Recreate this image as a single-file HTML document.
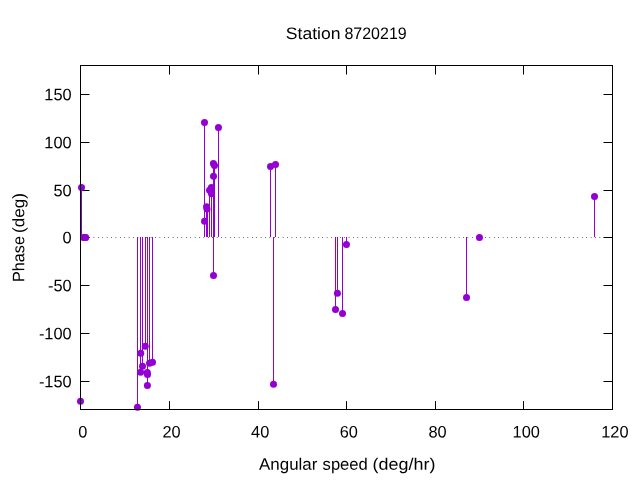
<!DOCTYPE html>
<html lang="en"><head><meta charset="utf-8"><title>Station 8720219</title>
<style>html,body{margin:0;padding:0;background:#fff;overflow:hidden}svg{display:block}text{font-family:"Liberation Sans","DejaVu Sans",sans-serif;font-size:16.6px;fill:#000;text-rendering:geometricPrecision}</style>
</head><body>
<svg width="640" height="480" viewBox="0 0 640 480">
<rect x="0" y="0" width="640" height="480" fill="#fff"/>
<g stroke="#000" stroke-width="1" fill="none" stroke-linecap="butt">
<line x1="80.5" y1="409.5" x2="80.5" y2="401.1"/>
<line x1="80.5" y1="65.5" x2="80.5" y2="74.5"/>
<line x1="169.5" y1="409.5" x2="169.5" y2="401.1"/>
<line x1="169.5" y1="65.5" x2="169.5" y2="74.5"/>
<line x1="258.5" y1="409.5" x2="258.5" y2="401.1"/>
<line x1="258.5" y1="65.5" x2="258.5" y2="74.5"/>
<line x1="346.5" y1="409.5" x2="346.5" y2="401.1"/>
<line x1="346.5" y1="65.5" x2="346.5" y2="74.5"/>
<line x1="435.5" y1="409.5" x2="435.5" y2="401.1"/>
<line x1="435.5" y1="65.5" x2="435.5" y2="74.5"/>
<line x1="523.5" y1="409.5" x2="523.5" y2="401.1"/>
<line x1="523.5" y1="65.5" x2="523.5" y2="74.5"/>
<line x1="612.5" y1="409.5" x2="612.5" y2="401.1"/>
<line x1="612.5" y1="65.5" x2="612.5" y2="74.5"/>
<line x1="80.5" y1="94.5" x2="89.5" y2="94.5"/>
<line x1="612.5" y1="94.5" x2="603.5" y2="94.5"/>
<line x1="80.5" y1="142.5" x2="89.5" y2="142.5"/>
<line x1="612.5" y1="142.5" x2="603.5" y2="142.5"/>
<line x1="80.5" y1="190.5" x2="89.5" y2="190.5"/>
<line x1="612.5" y1="190.5" x2="603.5" y2="190.5"/>
<line x1="80.5" y1="237.5" x2="89.5" y2="237.5"/>
<line x1="612.5" y1="237.5" x2="603.5" y2="237.5"/>
<line x1="80.5" y1="285.5" x2="89.5" y2="285.5"/>
<line x1="612.5" y1="285.5" x2="603.5" y2="285.5"/>
<line x1="80.5" y1="333.5" x2="89.5" y2="333.5"/>
<line x1="612.5" y1="333.5" x2="603.5" y2="333.5"/>
<line x1="80.5" y1="381.5" x2="89.5" y2="381.5"/>
<line x1="612.5" y1="381.5" x2="603.5" y2="381.5"/>
</g>
<line x1="80.4" y1="237.5" x2="612.5" y2="237.5" stroke="#000" stroke-width="1" stroke-dasharray="0.55 3.85" stroke-linecap="butt"/>
<g stroke="#9400D3" stroke-width="1" fill="none">
<line x1="81.5" y1="237" x2="81.5" y2="187.50"/>
<line x1="80.5" y1="237" x2="80.5" y2="401.36"/>
<line x1="137.5" y1="237" x2="137.5" y2="407.20"/>
<line x1="140.5" y1="237" x2="140.5" y2="353.25"/>
<line x1="140.5" y1="237" x2="140.5" y2="372.00"/>
<line x1="142.5" y1="237" x2="142.5" y2="366.25"/>
<line x1="145.5" y1="237" x2="145.5" y2="346.25"/>
<line x1="147.5" y1="237" x2="147.5" y2="385.40"/>
<line x1="149.5" y1="237" x2="149.5" y2="363.25"/>
<line x1="152.5" y1="237" x2="152.5" y2="362.25"/>
<line x1="204.5" y1="237" x2="204.5" y2="122.50"/>
<line x1="206.5" y1="237" x2="206.5" y2="206.65"/>
<line x1="207.5" y1="237" x2="207.5" y2="208.70"/>
<line x1="209.5" y1="237" x2="209.5" y2="190.25"/>
<line x1="211.5" y1="237" x2="211.5" y2="187.55"/>
<line x1="213.5" y1="237" x2="213.5" y2="163.50"/>
<line x1="213.5" y1="237" x2="213.5" y2="275.40"/>
<line x1="214.5" y1="237" x2="214.5" y2="165.40"/>
<line x1="218.5" y1="237" x2="218.5" y2="127.50"/>
<line x1="270.5" y1="237" x2="270.5" y2="166.50"/>
<line x1="275.5" y1="237" x2="275.5" y2="164.40"/>
<line x1="273.5" y1="237" x2="273.5" y2="384.35"/>
<line x1="335.5" y1="237" x2="335.5" y2="309.40"/>
<line x1="337.5" y1="237" x2="337.5" y2="293.35"/>
<line x1="342.5" y1="237" x2="342.5" y2="313.40"/>
<line x1="346.5" y1="237" x2="346.5" y2="244.44"/>
<line x1="466.5" y1="237" x2="466.5" y2="297.40"/>
<line x1="594.5" y1="237" x2="594.5" y2="196.40"/>
</g>
<g fill="#9400D3" stroke="none">
<circle cx="81.50" cy="187.50" r="3.5"/>
<circle cx="80.50" cy="401.36" r="3.5"/>
<circle cx="83.55" cy="237.50" r="3.5"/>
<circle cx="85.30" cy="237.50" r="3.5"/>
<circle cx="85.60" cy="237.50" r="3.5"/>
<circle cx="137.45" cy="407.30" r="3.5"/>
<circle cx="140.75" cy="353.25" r="3.5"/>
<circle cx="140.60" cy="372.20" r="3.5"/>
<circle cx="142.50" cy="366.25" r="3.5"/>
<circle cx="145.25" cy="346.25" r="3.5"/>
<circle cx="147.30" cy="372.55" r="3.5"/>
<circle cx="147.50" cy="374.60" r="3.5"/>
<circle cx="147.40" cy="385.40" r="3.5"/>
<circle cx="149.50" cy="363.25" r="3.5"/>
<circle cx="152.50" cy="362.25" r="3.5"/>
<circle cx="204.50" cy="122.50" r="3.5"/>
<circle cx="204.55" cy="221.30" r="3.5"/>
<circle cx="206.55" cy="206.80" r="3.5"/>
<circle cx="207.00" cy="208.90" r="3.5"/>
<circle cx="209.55" cy="190.25" r="3.5"/>
<circle cx="211.40" cy="187.55" r="3.5"/>
<circle cx="211.50" cy="193.70" r="3.5"/>
<circle cx="213.40" cy="163.50" r="3.5"/>
<circle cx="214.50" cy="165.40" r="3.5"/>
<circle cx="213.50" cy="176.25" r="3.5"/>
<circle cx="213.50" cy="275.40" r="3.5"/>
<circle cx="218.45" cy="127.50" r="3.5"/>
<circle cx="270.50" cy="166.50" r="3.5"/>
<circle cx="275.50" cy="164.40" r="3.5"/>
<circle cx="273.50" cy="384.35" r="3.5"/>
<circle cx="335.50" cy="309.40" r="3.5"/>
<circle cx="337.40" cy="293.35" r="3.5"/>
<circle cx="342.50" cy="313.40" r="3.5"/>
<circle cx="346.44" cy="244.44" r="3.5"/>
<circle cx="466.50" cy="297.40" r="3.5"/>
<circle cx="479.45" cy="237.50" r="3.5"/>
<circle cx="594.50" cy="196.40" r="3.5"/>
</g>
<rect x="80.5" y="65.5" width="532.0" height="344.0" fill="none" stroke="#000" stroke-width="1"/>
<g style="opacity:0.999">
<text transform="matrix(1 0.0005 0 1 82.85 437.60)" text-anchor="middle" textLength="9.12" lengthAdjust="spacingAndGlyphs">0</text>
<text transform="matrix(1 0.0005 0 1 171.52 437.60)" text-anchor="middle" textLength="18.24" lengthAdjust="spacingAndGlyphs">20</text>
<text transform="matrix(1 0.0005 0 1 260.18 437.60)" text-anchor="middle" textLength="18.24" lengthAdjust="spacingAndGlyphs">40</text>
<text transform="matrix(1 0.0005 0 1 348.85 437.60)" text-anchor="middle" textLength="18.24" lengthAdjust="spacingAndGlyphs">60</text>
<text transform="matrix(1 0.0005 0 1 437.52 437.60)" text-anchor="middle" textLength="18.24" lengthAdjust="spacingAndGlyphs">80</text>
<text transform="matrix(1 0.0005 0 1 526.18 437.60)" text-anchor="middle" textLength="27.36" lengthAdjust="spacingAndGlyphs">100</text>
<text transform="matrix(1 0.0005 0 1 614.85 437.60)" text-anchor="middle" textLength="27.36" lengthAdjust="spacingAndGlyphs">120</text>
<text transform="matrix(1 0.0005 0 1 71.70 100.20)" text-anchor="end" textLength="27.36" lengthAdjust="spacingAndGlyphs">150</text>
<text transform="matrix(1 0.0005 0 1 71.70 148.20)" text-anchor="end" textLength="27.36" lengthAdjust="spacingAndGlyphs">100</text>
<text transform="matrix(1 0.0005 0 1 71.70 196.20)" text-anchor="end" textLength="18.24" lengthAdjust="spacingAndGlyphs">50</text>
<text transform="matrix(1 0.0005 0 1 71.70 243.20)" text-anchor="end" textLength="9.12" lengthAdjust="spacingAndGlyphs">0</text>
<text transform="matrix(1 0.0005 0 1 71.70 291.20)" text-anchor="end" textLength="23.70" lengthAdjust="spacingAndGlyphs">-50</text>
<text transform="matrix(1 0.0005 0 1 71.70 339.20)" text-anchor="end" textLength="32.82" lengthAdjust="spacingAndGlyphs">-100</text>
<text transform="matrix(1 0.0005 0 1 71.70 387.20)" text-anchor="end" textLength="32.82" lengthAdjust="spacingAndGlyphs">-150</text>
<text transform="matrix(1 0.0005 0 1 285.80 38.90)" textLength="54.70" lengthAdjust="spacingAndGlyphs">Station</text>
<text transform="matrix(1 0.0005 0 1 344.40 38.90)" textLength="62.30" lengthAdjust="spacingAndGlyphs">8720219</text>
<text transform="matrix(1 0.0005 0 1 259.00 469.80)" textLength="58.40" lengthAdjust="spacingAndGlyphs">Angular</text>
<text transform="matrix(1 0.0005 0 1 322.60 469.80)" textLength="45.20" lengthAdjust="spacingAndGlyphs">speed</text>
<text transform="matrix(1 0.0005 0 1 372.60 469.80)" textLength="62.80" lengthAdjust="spacingAndGlyphs">(deg/hr)</text>
<text transform="translate(24.30 282.00) rotate(-90.03)" textLength="46.00" lengthAdjust="spacingAndGlyphs">Phase</text>
<text transform="translate(24.30 233.00) rotate(-90.03)" textLength="40.00" lengthAdjust="spacingAndGlyphs">(deg)</text>
</g>
</svg></body></html>
